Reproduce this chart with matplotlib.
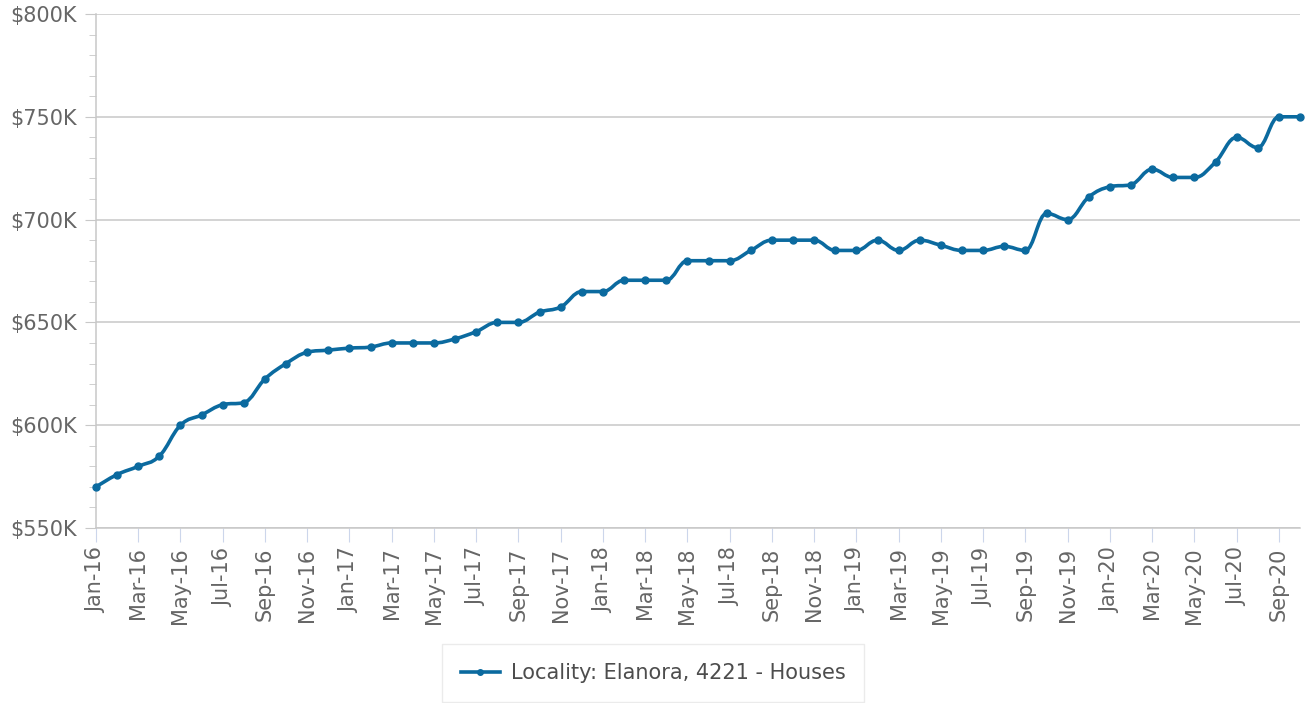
import numpy as np
import matplotlib
matplotlib.use('Agg')
import matplotlib.pyplot as plt
from matplotlib.ticker import MultipleLocator, FuncFormatter
from matplotlib.path import Path
from matplotlib.patches import PathPatch
from matplotlib.lines import Line2D

# monthly values Jan-16 .. Oct-20, in $K
months = ['Jan', 'Feb', 'Mar', 'Apr', 'May', 'Jun', 'Jul', 'Aug', 'Sep', 'Oct', 'Nov', 'Dec']
values = [570, 576, 580, 585, 600, 605, 610, 611, 622.5, 630, 635.5, 636.5,
          637.5, 638, 640, 640, 640, 642, 645.5, 650, 650, 655, 657.5, 665,
          665, 670.5, 670.5, 670.5, 680, 680, 680, 685, 690, 690, 690, 685,
          685, 690, 685, 690, 687.5, 685, 685, 687, 685, 703, 700, 711,
          716, 717, 724.5, 720.5, 720.5, 728, 740, 735, 750, 750]
labels = ['%s-%02d' % (months[i % 12], 16 + i // 12) for i in range(len(values))]
series_name = 'Locality: Elanora, 4221 - Houses'

line_col = '#0b6a9f'
txt_col = '#666666'


def spline_path(xs, ys, smoothing=1.5):
    # highcharts-style spline: cubic bezier with control points from neighbours
    n = len(xs)
    d = smoothing + 1
    lc = [(xs[i], ys[i]) for i in range(n)]
    rc = [(xs[i], ys[i]) for i in range(n)]
    for i in range(1, n - 1):
        px, py = xs[i], ys[i]
        lx = (smoothing*px + xs[i-1])/d
        ly = (smoothing*py + ys[i-1])/d
        rx = (smoothing*px + xs[i+1])/d
        ry = (smoothing*py + ys[i+1])/d
        if rx != lx:
            corr = (ry - ly)*(rx - px)/(rx - lx) + py - ry
            ly += corr
            ry += corr
        if ly > ys[i-1] and ly > py:
            ly = max(ys[i-1], py); ry = 2*py - ly
        elif ly < ys[i-1] and ly < py:
            ly = min(ys[i-1], py); ry = 2*py - ly
        if ry > ys[i+1] and ry > py:
            ry = max(ys[i+1], py); ly = 2*py - ry
        elif ry < ys[i+1] and ry < py:
            ry = min(ys[i+1], py); ly = 2*py - ry
        lc[i] = (lx, ly)
        rc[i] = (rx, ry)
    verts = [(xs[0], ys[0])]
    codes = [Path.MOVETO]
    for i in range(1, n):
        verts += [rc[i-1], lc[i], (xs[i], ys[i])]
        codes += [Path.CURVE4]*3
    return Path(verts, codes)


fig = plt.figure(figsize=(13.06, 7.03), dpi=100)
ax = fig.add_axes([96/1306, 1-528/703, 1204/1306, 514/703])

x = np.arange(len(values))
ax.add_patch(PathPatch(spline_path(x, values), fill=False, edgecolor=line_col,
                       lw=2.6, joinstyle='round', capstyle='round', zorder=3))
ax.plot(x, values, ls='none', color=line_col, marker='o', ms=5, zorder=4, clip_on=False)

ax.set_xlim(0, len(values) - 1)
ax.set_ylim(550, 800)
ax.yaxis.set_major_locator(MultipleLocator(50))
ax.yaxis.set_minor_locator(MultipleLocator(10))
ax.yaxis.set_major_formatter(FuncFormatter(lambda v, p: '$%dK' % v))
ax.grid(axis='y', color='#c8c8c8', lw=1.1)
ax.set_axisbelow(True)

ax.set_xticks(x[::2])
ax.set_xticklabels(labels[::2], rotation=90)

for s in ['top', 'right']:
    ax.spines[s].set_visible(False)
ax.spines['left'].set_color('#c8c8c8')
ax.spines['bottom'].set_color('#c8c8c8')
ax.spines['left'].set_linewidth(1.1)
ax.spines['bottom'].set_linewidth(1.1)

ax.tick_params(axis='y', which='major', length=8, color='#c8c8c8', labelcolor=txt_col,
               labelsize=15, pad=6)
ax.tick_params(axis='y', which='minor', length=5, color='#c8c8c8')
ax.tick_params(axis='x', length=10, color='#ccd6eb', labelcolor=txt_col, labelsize=15, pad=4)

handle = Line2D([], [], color=line_col, lw=2.6, marker='o', ms=4)
leg = fig.legend(handles=[handle], labels=[series_name], loc='lower center',
                 bbox_to_anchor=(0.5, 0.002), borderaxespad=0, fontsize=15,
                 frameon=True, fancybox=False, borderpad=0.9, handlelength=1.9,
                 handletextpad=0.5)
leg.get_frame().set_edgecolor('#e6e6e6')
for t in leg.get_texts():
    t.set_color('#4d4d4d')

fig.savefig('out.png', dpi=100)
